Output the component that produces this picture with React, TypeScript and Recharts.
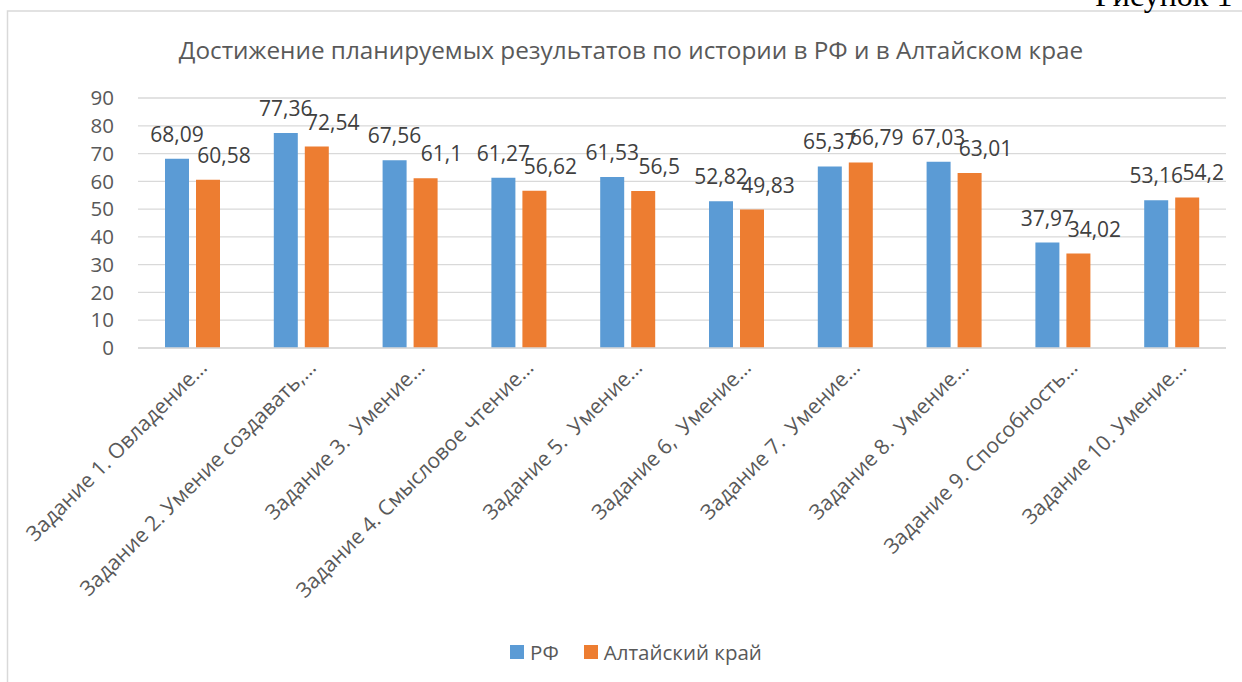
import { BarChart, Bar, XAxis, YAxis, CartesianGrid, Legend, LabelList } from "recharts";

const categories = [
  "Задание 1. Овладение…",
  "Задание 2. Умение создавать,…",
  "Задание 3.  Умение…",
  "Задание 4. Смысловое чтение…",
  "Задание 5.  Умение…",
  "Задание 6,  Умение…",
  "Задание 7.  Умение…",
  "Задание 8.  Умение…",
  "Задание 9. Способность…",
  "Задание 10. Умение…",
];
const seriesNames = ["РФ", "Алтайский край"];
const rfValues = [68.09, 77.36, 67.56, 61.27, 61.53, 52.82, 65.37, 67.03, 37.97, 53.16];
const altaiValues = [60.58, 72.54, 61.1, 56.62, 56.5, 49.83, 66.79, 63.01, 34.02, 54.2];
const yTicks = [0, 10, 20, 30, 40, 50, 60, 70, 80, 90];

const data = categories.map((name, i) => ({ name, rf: rfValues[i], altai: altaiValues[i] }));

const FONT = '"Open Sans", sans-serif';
const GREY = "#595959";

const fmt = (v: number) => String(v).replace(".", ",");

function CategoryTick({ x, y, payload }: any) {
  return (
    <g transform={`translate(${x + 16},${y + 21})`}>
      <text
        transform="rotate(-45)"
        textAnchor="end"
        fontSize={21}
        fill={GREY}
        fontFamily={FONT}
        style={{ whiteSpace: "pre" }}
      >
        {payload.value}
      </text>
    </g>
  );
}

// value labels sit ~25px above the bar; orange ones drift right in the original
const makeLabel = (dx: number) => (props: any) => {
  const { x, y, width, value } = props;
  return (
    <text
      x={x + width / 2 + dx}
      y={y - 25}
      textAnchor="middle"
      dominantBaseline="central"
      fontSize={21}
      fontFamily={FONT}
      fill="#404040"
    >
      {fmt(value)}
    </text>
  );
};

function LegendContent({ payload }: any) {
  const items = [...(payload || [])].sort(
    (a: any, b: any) => seriesNames.indexOf(a.value) - seriesNames.indexOf(b.value)
  );
  return (
    <div
      style={{
        display: "flex",
        justifyContent: "center",
        gap: 25,
        fontFamily: FONT,
        fontSize: 20.5,
        color: GREY,
      }}
    >
      {items.map((p: any) => (
        <span key={p.value} style={{ display: "flex", alignItems: "center" }}>
          <span style={{ width: 14, height: 14, background: p.color, marginRight: 6 }} />
          {p.value}
        </span>
      ))}
    </div>
  );
}

export default function App() {
  return (
    <div style={{ position: "absolute", left: 0, top: 0, width: 1242, height: 682, background: "#fff" }}>
      <svg width={1242} height={682} style={{ position: "absolute", left: 0, top: 0 }}>
        <path d="M7.5 682 V11 H1242" fill="none" stroke="#d9d9d9" strokeWidth={1.5} />
        <text x={1095} y={6} fontSize={32} fontFamily='"Liberation Serif", serif' fill="#000">
          Рисунок 1
        </text>
        <text x={631} y={59} textAnchor="middle" fontSize={24.3} fontFamily={FONT} fill={GREY}>
          Достижение планируемых результатов по истории в РФ и в Алтайском крае
        </text>
      </svg>
      <div style={{ position: "absolute", left: 0, top: 0 }}>
        <BarChart
          width={1242}
          height={682}
          data={data}
          margin={{ top: 98, right: 16, bottom: 304, left: 0 }}
          barGap={7}
          barSize={24}
        >
          <CartesianGrid vertical={false} stroke="#d9d9d9" strokeWidth={1.3} />
          <XAxis
            dataKey="name"
            height={30}
            interval={0}
            tickLine={false}
            tickSize={0}
            tickMargin={0}
            axisLine={{ stroke: "#d9d9d9", strokeWidth: 1.3 }}
            tick={<CategoryTick />}
          />
          <YAxis
            width={138}
            domain={[0, 90]}
            ticks={yTicks}
            interval={0}
            axisLine={false}
            tickLine={false}
            tickSize={0}
            tickMargin={24}
            tick={{ fontSize: 20.5, fill: GREY, fontFamily: FONT }}
          />
          <Legend
            verticalAlign="middle"
            layout="horizontal"
            content={<LegendContent />}
            wrapperStyle={{ top: 638, left: 15, width: 1242 }}
          />
          <Bar dataKey="rf" name={seriesNames[0]} fill="#5B9BD5" isAnimationActive={false}>
            <LabelList dataKey="rf" content={makeLabel(0)} />
          </Bar>
          <Bar dataKey="altai" name={seriesNames[1]} fill="#ED7D31" isAnimationActive={false}>
            <LabelList dataKey="altai" content={makeLabel(16)} />
          </Bar>
        </BarChart>
      </div>
    </div>
  );
}
